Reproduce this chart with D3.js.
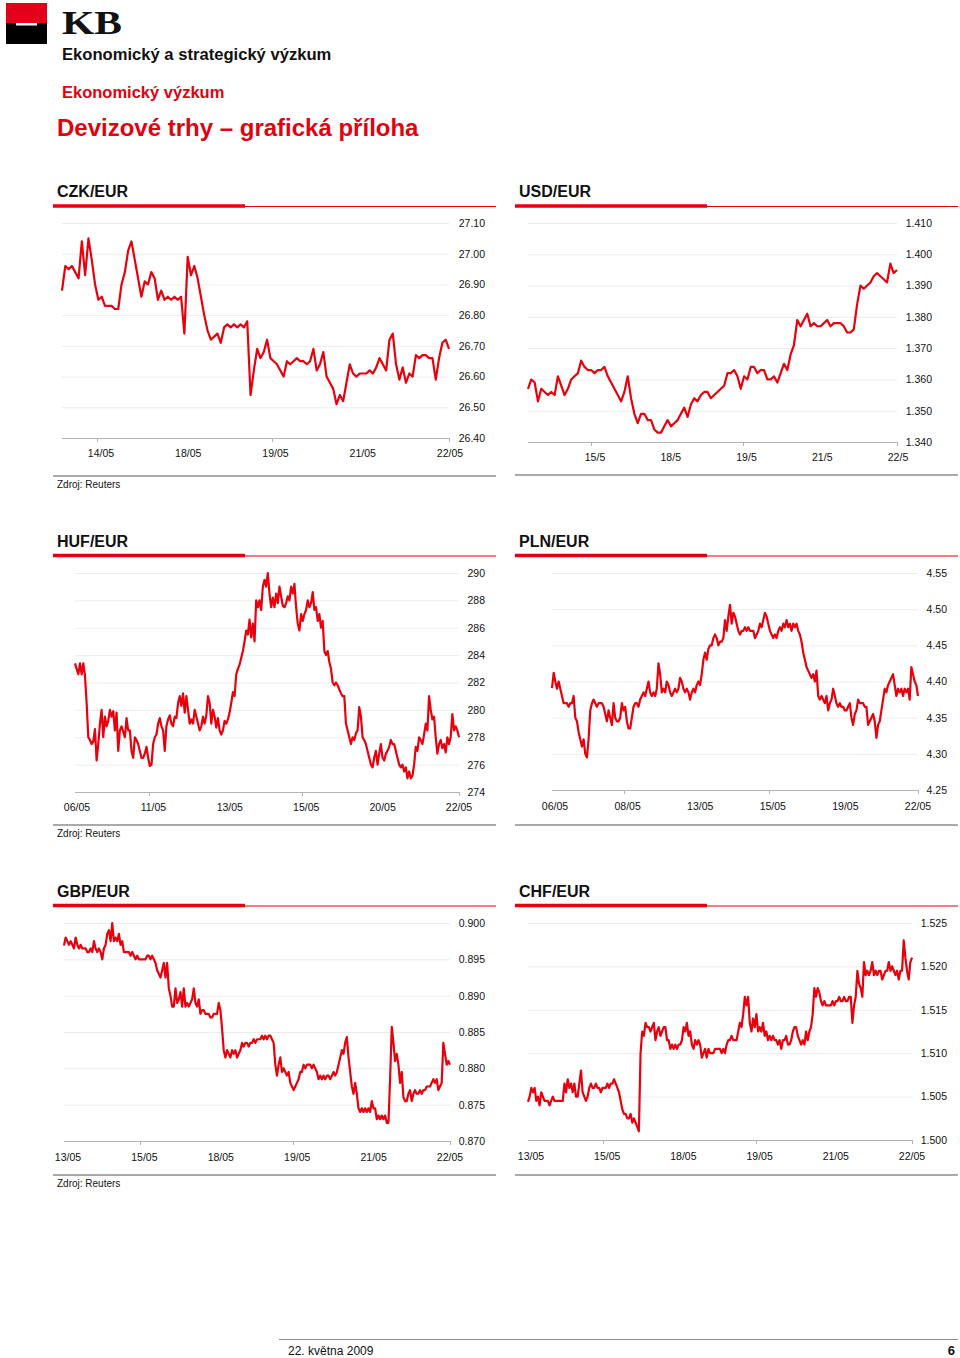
<!DOCTYPE html>
<html><head><meta charset="utf-8">
<script src="https://cdn.jsdelivr.net/npm/d3@7/dist/d3.min.js"></script>
<style>
html,body{margin:0;padding:0;background:#fff;}
svg{display:block;font-family:"Liberation Sans",Arial,Helvetica,sans-serif;}
</style></head>
<body>
<svg id="c" width="960" height="1358"></svg>
<script>
// ---------- DATA ----------
const czkValues = [26.88,26.96,26.95,26.96,26.94,26.92,27.04,26.93,27.05,26.98,26.90,26.85,26.86,26.83,26.83,26.83,26.82,26.82,26.90,26.94,27.01,27.04,26.98,26.92,26.86,26.91,26.90,26.94,26.92,26.85,26.88,26.85,26.86,26.85,26.86,26.85,26.86,26.74,26.99,26.93,26.96,26.92,26.86,26.80,26.75,26.72,26.73,26.74,26.71,26.76,26.77,26.76,26.77,26.76,26.77,26.76,26.78,26.54,26.62,26.69,26.66,26.68,26.72,26.66,26.65,26.64,26.62,26.60,26.65,26.64,26.65,26.66,26.65,26.65,26.64,26.65,26.69,26.62,26.64,26.68,26.60,26.58,26.56,26.51,26.54,26.52,26.58,26.64,26.61,26.60,26.61,26.61,26.61,26.62,26.61,26.63,26.66,26.64,26.62,26.72,26.74,26.64,26.59,26.63,26.58,26.61,26.60,26.67,26.66,26.67,26.67,26.66,26.66,26.59,26.66,26.71,26.72,26.69];
const usdValues = [1.357,1.360,1.359,1.353,1.357,1.356,1.355,1.356,1.355,1.361,1.358,1.355,1.357,1.360,1.361,1.362,1.366,1.364,1.363,1.363,1.362,1.363,1.363,1.364,1.361,1.359,1.357,1.355,1.353,1.356,1.361,1.354,1.349,1.346,1.349,1.349,1.347,1.347,1.344,1.343,1.343,1.345,1.347,1.345,1.346,1.347,1.349,1.351,1.348,1.352,1.354,1.353,1.355,1.356,1.356,1.354,1.355,1.356,1.357,1.358,1.362,1.362,1.363,1.361,1.357,1.361,1.360,1.364,1.364,1.362,1.363,1.363,1.360,1.360,1.361,1.359,1.362,1.365,1.363,1.368,1.371,1.379,1.377,1.379,1.381,1.377,1.378,1.377,1.377,1.378,1.379,1.377,1.378,1.378,1.378,1.377,1.375,1.375,1.376,1.384,1.390,1.389,1.390,1.391,1.393,1.394,1.393,1.392,1.391,1.397,1.394,1.395];
const hufValues = [283.4,283.0,282.6,283.4,282.6,283.4,282.5,280.5,278.0,277.8,277.5,277.7,278.6,276.3,277.5,279.0,280.0,278.0,279.5,278.8,279.2,280.0,279.5,279.9,278.5,279.8,277.0,278.5,278.8,278.4,278.0,279.4,278.5,278.5,277.0,276.5,278.0,277.8,277.5,277.0,276.5,276.5,276.8,277.3,276.5,275.9,276.0,277.5,278.0,278.2,279.0,279.4,278.8,278.5,277.0,278.8,279.3,279.6,279.0,278.8,279.5,279.4,280.5,281.0,280.3,281.2,279.8,281.0,280.0,279.0,279.3,279.0,280.0,279.5,279.0,278.5,278.8,279.5,279.0,279.6,281.0,280.5,279.0,280.0,279.5,278.7,279.4,278.5,278.2,278.5,279.2,279.0,279.3,279.8,280.5,281.3,281.0,282.6,283.0,283.3,283.8,284.3,285.0,285.8,285.5,286.6,285.3,286.3,285.0,288.0,287.5,288.0,287.3,289.0,289.5,289.0,290.0,288.5,287.5,288.2,287.5,288.5,287.8,289.0,288.3,287.6,287.5,287.8,288.3,288.0,289.0,288.5,289.2,287.5,286.3,285.8,287.0,286.5,287.0,287.3,288.0,287.5,287.8,288.6,287.3,287.5,286.5,287.0,286.0,286.5,284.3,284.0,284.3,283.5,283.0,282.0,281.8,282.0,281.8,281.5,281.2,281.0,281.0,279.0,278.5,278.0,277.5,278.0,277.8,278.3,278.5,280.2,279.5,278.0,277.8,277.5,277.0,276.5,276.0,275.8,276.5,277.0,276.0,276.8,277.5,276.5,276.3,276.8,277.0,277.3,277.8,277.5,277.5,277.0,276.5,276.0,275.8,276.0,275.5,275.8,275.0,275.5,275.0,275.2,276.0,277.3,277.0,278.0,277.8,277.5,278.2,279.0,278.5,281.0,280.0,279.3,279.5,278.0,276.8,277.5,277.8,277.2,277.5,276.9,278.0,277.5,278.0,279.7,278.5,278.8,278.5,278.0];
const plnValues = [4.391,4.412,4.40,4.39,4.40,4.39,4.38,4.37,4.37,4.37,4.365,4.37,4.37,4.38,4.35,4.345,4.33,4.32,4.31,4.32,4.30,4.295,4.32,4.36,4.37,4.375,4.37,4.365,4.37,4.37,4.37,4.365,4.355,4.345,4.36,4.35,4.34,4.37,4.35,4.345,4.345,4.35,4.37,4.36,4.365,4.345,4.335,4.335,4.35,4.365,4.37,4.37,4.365,4.375,4.38,4.385,4.38,4.39,4.40,4.385,4.38,4.385,4.38,4.39,4.425,4.41,4.385,4.39,4.385,4.40,4.395,4.385,4.38,4.385,4.39,4.385,4.39,4.405,4.40,4.39,4.385,4.39,4.385,4.375,4.385,4.39,4.385,4.395,4.40,4.395,4.41,4.43,4.44,4.43,4.445,4.45,4.45,4.46,4.465,4.46,4.45,4.455,4.455,4.46,4.485,4.47,4.49,4.506,4.48,4.495,4.49,4.48,4.47,4.465,4.47,4.47,4.475,4.47,4.475,4.47,4.47,4.47,4.46,4.465,4.47,4.48,4.475,4.485,4.495,4.49,4.48,4.47,4.465,4.46,4.465,4.46,4.47,4.475,4.47,4.48,4.475,4.485,4.475,4.48,4.47,4.48,4.475,4.48,4.47,4.465,4.455,4.44,4.43,4.42,4.415,4.41,4.405,4.41,4.40,4.415,4.38,4.375,4.38,4.375,4.37,4.38,4.36,4.37,4.375,4.39,4.38,4.37,4.365,4.37,4.365,4.365,4.36,4.36,4.365,4.37,4.35,4.34,4.355,4.36,4.375,4.37,4.37,4.37,4.365,4.365,4.34,4.345,4.35,4.355,4.345,4.322,4.34,4.345,4.36,4.375,4.39,4.385,4.395,4.40,4.405,4.41,4.395,4.38,4.39,4.385,4.39,4.38,4.39,4.385,4.39,4.375,4.42,4.41,4.40,4.395,4.38];
const gbpValues = [0.8969,0.898,0.8975,0.897,0.8975,0.897,0.8965,0.898,0.897,0.8965,0.897,0.8965,0.8965,0.8965,0.896,0.896,0.8965,0.896,0.8975,0.8965,0.896,0.8965,0.896,0.895,0.8965,0.897,0.8985,0.899,0.8975,0.900,0.8975,0.898,0.8975,0.8985,0.897,0.8975,0.896,0.896,0.896,0.896,0.8955,0.896,0.8955,0.895,0.8955,0.895,0.895,0.895,0.895,0.895,0.8955,0.8955,0.895,0.8955,0.895,0.8945,0.8935,0.893,0.8925,0.8935,0.8945,0.8925,0.8945,0.891,0.890,0.8885,0.8885,0.891,0.889,0.8895,0.8905,0.8885,0.891,0.8885,0.889,0.8885,0.889,0.8895,0.891,0.889,0.8885,0.8895,0.8875,0.888,0.888,0.8875,0.8875,0.8875,0.887,0.887,0.8875,0.8875,0.8875,0.889,0.888,0.8855,0.8825,0.8815,0.8825,0.882,0.8815,0.8825,0.882,0.8825,0.8815,0.882,0.8825,0.8835,0.883,0.8835,0.8835,0.883,0.8835,0.8835,0.884,0.8835,0.884,0.884,0.884,0.8845,0.884,0.8845,0.884,0.8845,0.8845,0.884,0.8835,0.8805,0.879,0.8805,0.8815,0.8795,0.880,0.8795,0.879,0.8795,0.878,0.8775,0.877,0.8775,0.878,0.8785,0.8795,0.8795,0.8805,0.880,0.8805,0.8805,0.8805,0.880,0.8805,0.880,0.8795,0.8785,0.879,0.8785,0.879,0.8785,0.879,0.879,0.8785,0.879,0.8795,0.879,0.8795,0.8805,0.8815,0.8825,0.882,0.8835,0.8843,0.8815,0.8795,0.8775,0.8765,0.878,0.8765,0.8745,0.874,0.8745,0.874,0.8745,0.874,0.8745,0.874,0.8755,0.8745,0.8745,0.873,0.8735,0.873,0.8735,0.873,0.8735,0.8725,0.8725,0.8785,0.8857,0.8835,0.881,0.882,0.8805,0.878,0.8795,0.876,0.8755,0.8755,0.8765,0.877,0.8755,0.8765,0.877,0.8765,0.8765,0.877,0.8765,0.877,0.877,0.8775,0.8775,0.8775,0.878,0.8785,0.878,0.8785,0.877,0.8775,0.878,0.8835,0.882,0.8805,0.881,0.8805];
const chfValues = [1.5044,1.505,1.506,1.5055,1.506,1.5045,1.505,1.504,1.5055,1.505,1.5045,1.5045,1.5045,1.504,1.5045,1.505,1.5045,1.5045,1.5045,1.5045,1.5045,1.5045,1.5065,1.5055,1.507,1.506,1.5065,1.5055,1.5065,1.505,1.505,1.5065,1.508,1.5055,1.505,1.5045,1.505,1.506,1.5065,1.506,1.506,1.5065,1.506,1.506,1.5055,1.506,1.506,1.506,1.5065,1.506,1.5065,1.5065,1.507,1.5065,1.506,1.5055,1.5045,1.5035,1.503,1.503,1.5025,1.5025,1.503,1.502,1.5025,1.502,1.5015,1.501,1.510,1.5125,1.512,1.5135,1.513,1.513,1.5125,1.513,1.5135,1.5115,1.5125,1.513,1.512,1.5125,1.513,1.513,1.5115,1.5115,1.5105,1.511,1.5105,1.511,1.5105,1.511,1.511,1.5115,1.513,1.5125,1.5135,1.512,1.5125,1.511,1.5105,1.5115,1.511,1.5115,1.511,1.5095,1.510,1.5105,1.5095,1.5105,1.510,1.510,1.510,1.5105,1.5105,1.5105,1.5105,1.510,1.5105,1.510,1.511,1.5115,1.5115,1.512,1.5115,1.5115,1.5115,1.5125,1.5135,1.513,1.5145,1.5165,1.5155,1.5165,1.5135,1.5125,1.514,1.513,1.5145,1.5125,1.513,1.5125,1.5135,1.512,1.5125,1.5115,1.512,1.5115,1.512,1.5115,1.5115,1.511,1.5115,1.5105,1.5115,1.5115,1.512,1.511,1.511,1.5115,1.5125,1.513,1.513,1.512,1.5115,1.511,1.5115,1.511,1.5125,1.5115,1.5125,1.513,1.5145,1.5175,1.5165,1.5175,1.517,1.516,1.5155,1.516,1.5155,1.5155,1.5155,1.5155,1.516,1.5155,1.516,1.516,1.5165,1.516,1.516,1.5165,1.516,1.516,1.5165,1.5165,1.5135,1.5155,1.5165,1.5195,1.518,1.5175,1.5165,1.5205,1.519,1.5195,1.519,1.5195,1.5205,1.519,1.5195,1.519,1.5195,1.5195,1.5185,1.519,1.5195,1.5195,1.5205,1.5195,1.520,1.5195,1.519,1.5195,1.5185,1.5195,1.5195,1.523,1.521,1.5195,1.5185,1.5205,1.521];

const czkTicks = [26.40,26.50,26.60,26.70,26.80,26.90,27.00,27.10];
const usdTicks = [1.340,1.350,1.360,1.370,1.380,1.390,1.400,1.410];
const hufTicks = [274,276,278,280,282,284,286,288,290];
const plnTicks = [4.25,4.30,4.35,4.40,4.45,4.50,4.55];
const gbpTicks = [0.870,0.875,0.880,0.885,0.890,0.895,0.900];
const chfTicks = [1.500,1.505,1.510,1.515,1.520,1.525];

const czkDates = ["14/05","18/05","19/05","21/05","22/05"];
const usdDates = ["15/5","18/5","19/5","21/5","22/5"];
const hufDates = ["06/05","11/05","13/05","15/05","20/05","22/05"];
const plnDates = ["06/05","08/05","13/05","15/05","19/05","22/05"];
const gbpDates = ["13/05","15/05","18/05","19/05","21/05","22/05"];
const chfDates = ["13/05","15/05","18/05","19/05","21/05","22/05"];

const panelTitles = ["CZK/EUR","USD/EUR","HUF/EUR","PLN/EUR","GBP/EUR","CHF/EUR"];

// ---------- LAYOUT ----------
const RED = "#e8000d";
const TITLE_RED = "#e3000f";
const svg = d3.select("#c");

// Header
svg.append("rect").attr("x",6).attr("y",3).attr("width",41).attr("height",20).attr("fill","#e2001a");
svg.append("rect").attr("x",6).attr("y",23).attr("width",41).attr("height",21).attr("fill","#000");
svg.append("rect").attr("x",16).attr("y",23).attr("width",21).attr("height",2.5).attr("fill","#fff");
svg.append("text").attr("x",62).attr("y",34).attr("font-family","'Liberation Serif','DejaVu Serif',serif")
  .attr("font-weight","bold").attr("font-size",33).attr("textLength",60).attr("lengthAdjust","spacingAndGlyphs")
  .attr("fill","#111").text("KB");
svg.append("text").attr("x",62).attr("y",60).attr("font-weight","bold").attr("font-size",16.6).attr("fill","#111")
  .text("Ekonomický a strategický výzkum");
svg.append("text").attr("x",62).attr("y",98).attr("font-weight","bold").attr("font-size",16.5).attr("fill",TITLE_RED)
  .text("Ekonomický výzkum");
svg.append("text").attr("x",57).attr("y",136).attr("font-weight","bold").attr("font-size",24).attr("fill",TITLE_RED)
  .text("Devizové trhy – grafická příloha");

const panels = [
  {title:panelTitles[0], values:czkValues, ticks:czkTicks, dates:czkDates, fmt:".2f",
   x0:53, titleY:197, barY:206, px:[62,449], top:223, axis:438, yLab:485, xLabY:457, lab:[101,450], sep:476, src:true},
  {title:panelTitles[1], values:usdValues, ticks:usdTicks, dates:usdDates, fmt:".3f",
   x0:515, titleY:197, barY:206, px:[528,897], top:223, axis:442, yLab:932, xLabY:461, lab:[595,898], sep:475, src:false},
  {title:panelTitles[2], values:hufValues, ticks:hufTicks, dates:hufDates, fmt:"d",
   x0:53, titleY:547, barY:555.5, px:[75,459], top:573, axis:792, yLab:485, xLabY:811, lab:[77,459], sep:825, src:true},
  {title:panelTitles[3], values:plnValues, ticks:plnTicks, dates:plnDates, fmt:".2f",
   x0:515, titleY:547, barY:555.5, px:[552,918], top:573, axis:790, yLab:947, xLabY:810, lab:[555,918], sep:825, src:false},
  {title:panelTitles[4], values:gbpValues, ticks:gbpTicks, dates:gbpDates, fmt:".3f",
   x0:53, titleY:897, barY:905.5, px:[64,450], top:923, axis:1141, yLab:485, xLabY:1161, lab:[68,450], sep:1175, src:true},
  {title:panelTitles[5], values:chfValues, ticks:chfTicks, dates:chfDates, fmt:".3f",
   x0:515, titleY:897, barY:905.5, px:[528,912], top:923, axis:1140, yLab:947, xLabY:1160, lab:[531,912], sep:1175, src:false}
];

panels.forEach(p => {
  const g = svg.append("g");
  g.append("text").attr("x",p.x0+4).attr("y",p.titleY).attr("font-weight","bold").attr("font-size",16)
    .attr("fill","#111").text(p.title);
  g.append("line").attr("x1",p.x0).attr("x2",p.x0+192).attr("y1",p.barY).attr("y2",p.barY)
    .attr("stroke",RED).attr("stroke-width",3.5);
  g.append("line").attr("x1",p.x0+192).attr("x2",p.x0+443).attr("y1",p.barY+0.5).attr("y2",p.barY+0.5)
    .attr("stroke",RED).attr("stroke-width",1.2);

  const y = d3.scaleLinear().domain([p.ticks[0], p.ticks[p.ticks.length-1]]).range([p.axis, p.top]);
  const x = d3.scaleLinear().domain([0, p.values.length-1]).range(p.px);

  // gridlines
  const grid = d3.axisLeft(y).tickValues(p.ticks.slice(1)).tickSize(-(p.px[1]-p.px[0])).tickFormat("");
  const gg = g.append("g").attr("transform",`translate(${p.px[0]},0)`).call(grid);
  gg.select(".domain").remove();
  gg.selectAll("line").attr("stroke","#ececec").attr("stroke-width",1);

  // y labels
  const ya = d3.axisRight(y).tickValues(p.ticks).tickSize(0).tickPadding(0).tickFormat(d3.format(p.fmt));
  const yg = g.append("g").attr("transform",`translate(${p.yLab},0)`).call(ya);
  yg.select(".domain").remove();
  yg.selectAll("text").attr("text-anchor","end").attr("font-size",10.5).attr("fill","#111")
    .attr("font-family","'Liberation Sans',Arial,sans-serif");

  // x axis
  g.append("line").attr("x1",p.px[0]).attr("x2",p.px[1]+1).attr("y1",p.axis+0.5).attr("y2",p.axis+0.5)
    .attr("stroke","#b4b4b4").attr("stroke-width",1.2);
  const xl = d3.scalePoint().domain(p.dates).range(p.lab);
  const n = p.dates.length;
  p.dates.forEach((d,i) => {
    g.append("text").attr("x",xl(d)).attr("y",p.xLabY).attr("text-anchor","middle")
      .attr("font-size",10.5).attr("fill","#111").text(d);
    if ((n-1-i)%2===0){
      const tx = Math.round(i===n-1 ? p.px[1] : xl(d)-4)+0.5;
      g.append("line").attr("x1",tx).attr("x2",tx).attr("y1",p.axis).attr("y2",p.axis+4)
        .attr("stroke","#b4b4b4").attr("stroke-width",1);
    }
  });

  // series line
  const line = d3.line().x((d,i)=>x(i)).y(d=>y(d));
  g.append("path").datum(p.values).attr("d",line).attr("fill","none").attr("stroke",RED)
    .attr("stroke-width",2.2).attr("stroke-linejoin","round");

  // separator
  g.append("line").attr("x1",p.x0).attr("x2",p.x0+443).attr("y1",p.sep).attr("y2",p.sep)
    .attr("stroke","#8e8e8e").attr("stroke-width",1.4);
  if (p.src){
    g.append("text").attr("x",p.x0+4).attr("y",p.sep+12).attr("font-size",10).attr("fill","#111")
      .text("Zdroj: Reuters");
  }
});

// Footer
svg.append("line").attr("x1",279).attr("x2",958).attr("y1",1339.5).attr("y2",1339.5)
  .attr("stroke","#8e8e8e").attr("stroke-width",1.2);
svg.append("text").attr("x",288).attr("y",1355).attr("font-size",12).attr("fill","#111").text("22. května 2009");
svg.append("text").attr("x",955).attr("y",1355).attr("text-anchor","end").attr("font-size",13)
  .attr("font-weight","bold").attr("fill","#111").text("6");
</script>
</body></html>
